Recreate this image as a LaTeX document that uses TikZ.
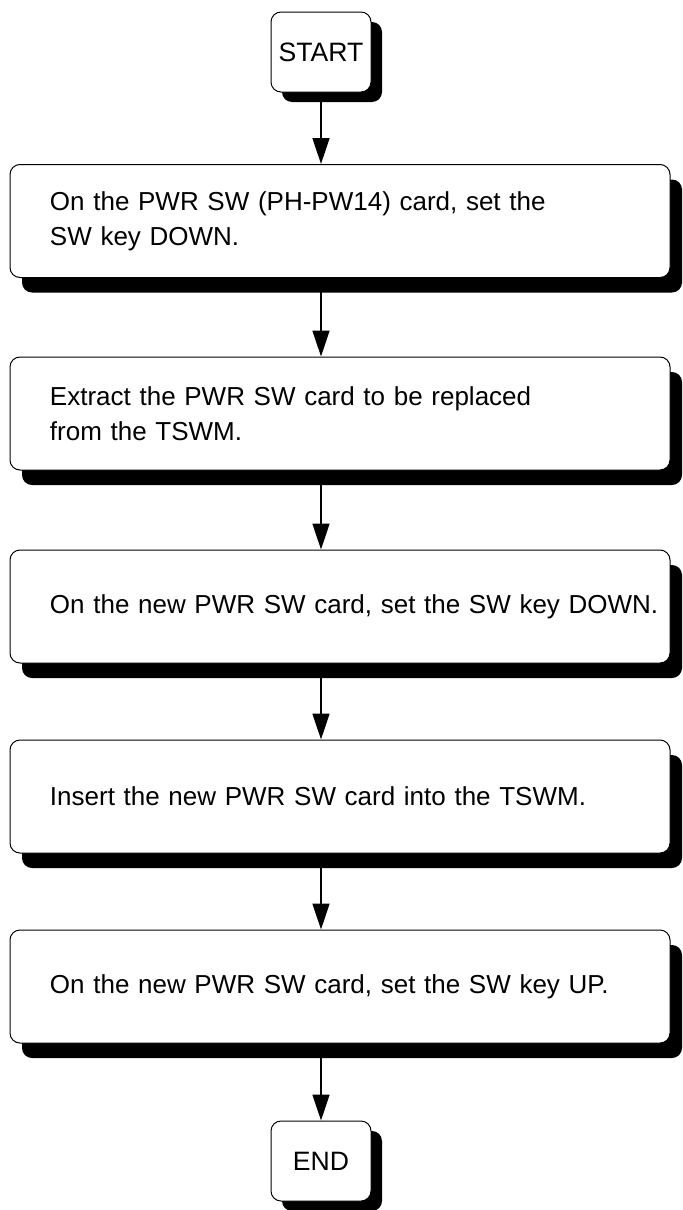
\documentclass[tikz,border=0pt]{standalone}
\usepackage{fontspec}
\setmainfont{Liberation Sans}
\usetikzlibrary{arrows.meta,shadows}

\begin{document}
\begin{tikzpicture}[x=0.5pt,y=-0.5pt,
    font=\fontsize{13pt}{17.5pt}\selectfont,
    endbox/.style={draw,line width=0.5pt,rounded corners=5pt,fill=white,
      minimum width=50pt,minimum height=40pt,inner sep=0pt,
      font=\fontsize{13.3pt}{16pt}\selectfont,
      drop shadow={shadow xshift=5.5pt,shadow yshift=-5pt,fill=black,opacity=1}},
    stepbox/.style={draw,line width=0.5pt,rounded corners=5pt,fill=white,
      minimum width=330pt,minimum height=56.5pt,text width=330pt,
      inner xsep=0pt,align=left,execute at begin node={\leftskip=20pt},
      drop shadow={shadow xshift=6pt,shadow yshift=-7.5pt,fill=black,opacity=1}},
    flow/.style={line width=0.8pt,-{Triangle[length=13pt,width=8.5pt]}}]
  \useasboundingbox (0,0) rectangle (682,1210);

  \node[endbox] (start) at (321,52) {START};
  \node[stepbox] (step1) at (340,221)
    {On the PWR SW (PH-PW14) card, set the\\SW key DOWN.};
  \node[stepbox] (step2) at (340,413.5)
    {Extract the PWR SW card to be replaced\\from the TSWM.};
  \node[stepbox] (step3) at (340,606.5)
    {On the new PWR SW card, set the SW key DOWN.};
  \node[stepbox] (step4) at (340,796.5)
    {Insert the new PWR SW card into the TSWM.};
  \node[stepbox] (step5) at (340,986.5)
    {On the new PWR SW card, set the SW key UP.};
  \node[endbox] (end) at (321,1161) {END};

  \draw[flow] (start.south) -- (start.south |- step1.north);
  \draw[flow] (step1.south -| start) -- (step2.north -| start);
  \draw[flow] (step2.south -| start) -- (step3.north -| start);
  \draw[flow] (step3.south -| start) -- (step4.north -| start);
  \draw[flow] (step4.south -| start) -- (step5.north -| start);
  \draw[flow] (step5.south -| start) -- (end.north);
\end{tikzpicture}
\end{document}
